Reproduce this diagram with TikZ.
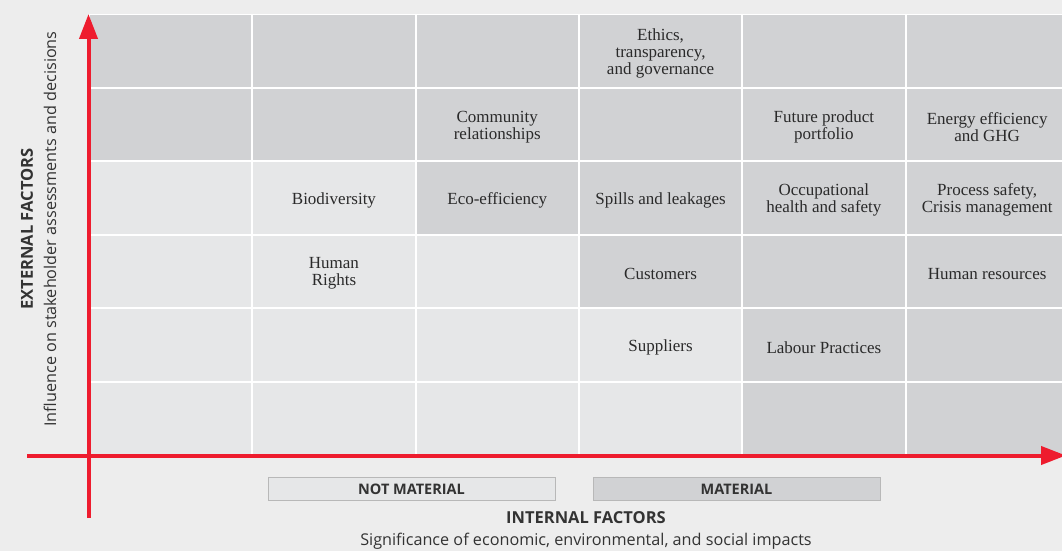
\documentclass[tikz,border=0pt]{standalone}
\usepackage{fontspec}
\setmainfont{Liberation Serif}
\newfontfamily\axisfont{Open Sans}
\usetikzlibrary{arrows.meta}

\definecolor{pagebg}{HTML}{EDEDED}
\definecolor{celldark}{HTML}{D1D2D4}
\definecolor{celllight}{HTML}{E6E7E8}
\definecolor{axisred}{HTML}{EE1C2E}
\definecolor{inktext}{HTML}{333333}
\definecolor{celltextcol}{HTML}{2A2A2A}
\definecolor{boxline}{HTML}{B8B8B8}

\tikzset{
  cell/.style={rectangle, inner sep=0pt, minimum width=161.3pt, minimum height=71.5pt},
  dark/.style={cell, fill=celldark},
  light/.style={cell, fill=celllight},
  topic/.style={align=center, inner sep=0pt, yshift=-2.5pt, text=celltextcol,
    font=\fontsize{17}{17}\selectfont},
  axisline/.style={draw=axisred, line width=4pt, -{Triangle[length=25pt, width=18pt]}},
  legendbox/.style={rectangle, draw=boxline, line width=0.8pt, minimum width=287pt,
    minimum height=23pt, inner sep=0pt, text=inktext, font=\axisfont\bfseries\fontsize{14.5}{16}\selectfont},
  axistitle/.style={text=inktext, font=\axisfont\bfseries\fontsize{16.5}{19}\selectfont},
  axissub/.style={text=inktext, font=\axisfont\fontsize{16.2}{19}\selectfont},
}

\begin{document}
\begin{tikzpicture}[x=1pt, y=-1pt]
  \useasboundingbox (0,0) rectangle (1062,551);
  \clip (0,0) rectangle (1062,551);
  \fill[pagebg] (0,0) rectangle (1062,551);

  % white gutters between the cells
  \fill[white] (89,14) rectangle (1070,455);

  % 6 x 6 matrix: column centres every 163.3, row centres every 73.5
  \def\cx#1{89+163.3*(#1-0.5)}
  \def\cy#1{14+73.5*(#1-0.5)}

  % cell shading, row by row (top to bottom)
  \node[dark] (r1c1) at ({\cx1},{\cy1}) {};
  \node[dark] (r1c2) at ({\cx2},{\cy1}) {};
  \node[dark] (r1c3) at ({\cx3},{\cy1}) {};
  \node[dark] (r1c4) at ({\cx4},{\cy1}) {};
  \node[dark] (r1c5) at ({\cx5},{\cy1}) {};
  \node[dark] (r1c6) at ({\cx6},{\cy1}) {};

  \node[dark] (r2c1) at ({\cx1},{\cy2}) {};
  \node[dark] (r2c2) at ({\cx2},{\cy2}) {};
  \node[dark] (r2c3) at ({\cx3},{\cy2}) {};
  \node[dark] (r2c4) at ({\cx4},{\cy2}) {};
  \node[dark] (r2c5) at ({\cx5},{\cy2}) {};
  \node[dark] (r2c6) at ({\cx6},{\cy2}) {};

  \node[light] (r3c1) at ({\cx1},{\cy3}) {};
  \node[light] (r3c2) at ({\cx2},{\cy3}) {};
  \node[dark]  (r3c3) at ({\cx3},{\cy3}) {};
  \node[dark]  (r3c4) at ({\cx4},{\cy3}) {};
  \node[dark]  (r3c5) at ({\cx5},{\cy3}) {};
  \node[dark]  (r3c6) at ({\cx6},{\cy3}) {};

  \node[light] (r4c1) at ({\cx1},{\cy4}) {};
  \node[light] (r4c2) at ({\cx2},{\cy4}) {};
  \node[light] (r4c3) at ({\cx3},{\cy4}) {};
  \node[dark]  (r4c4) at ({\cx4},{\cy4}) {};
  \node[dark]  (r4c5) at ({\cx5},{\cy4}) {};
  \node[dark]  (r4c6) at ({\cx6},{\cy4}) {};

  \node[light] (r5c1) at ({\cx1},{\cy5}) {};
  \node[light] (r5c2) at ({\cx2},{\cy5}) {};
  \node[light] (r5c3) at ({\cx3},{\cy5}) {};
  \node[light] (r5c4) at ({\cx4},{\cy5}) {};
  \node[dark]  (r5c5) at ({\cx5},{\cy5}) {};
  \node[dark]  (r5c6) at ({\cx6},{\cy5}) {};

  \node[light] (r6c1) at ({\cx1},{\cy6}) {};
  \node[light] (r6c2) at ({\cx2},{\cy6}) {};
  \node[light] (r6c3) at ({\cx3},{\cy6}) {};
  \node[light] (r6c4) at ({\cx4},{\cy6}) {};
  \node[dark]  (r6c5) at ({\cx5},{\cy6}) {};
  \node[dark]  (r6c6) at ({\cx6},{\cy6}) {};

  % topics placed in their cells
  \node[topic] (t-ethics)    at (r1c4) {Ethics,\\transparency,\\and governance};
  \node[topic] (t-community) at (r2c3) {Community\\relationships};
  \node[topic] (t-future)    at (r2c5) {Future product\\portfolio};
  \node[topic] (t-energy)    at (r2c6) {Energy efficiency\\and GHG};
  \node[topic] (t-biodiv)    at (r3c2) {Biodiversity};
  \node[topic] (t-eco)       at (r3c3) {Eco-efficiency};
  \node[topic] (t-spills)    at (r3c4) {Spills and leakages};
  \node[topic] (t-ohs)       at (r3c5) {Occupational\\health and safety};
  \node[topic] (t-process)   at (r3c6) {Process safety,\\Crisis management};
  \node[topic] (t-rights)    at (r4c2) {Human\\Rights};
  \node[topic] (t-customers) at (r4c4) {Customers};
  \node[topic] (t-hr)        at (r4c6) {Human resources};
  \node[topic] (t-suppliers) at (r5c4) {Suppliers};
  \node[topic] (t-labour)    at (r5c5) {Labour Practices};

  % axes
  \coordinate (ybase) at (88.5,518);
  \coordinate (ytip)  at (88.5,14);
  \coordinate (xbase) at (27,455.5);
  \coordinate (xtip)  at (1066,455.5);
  \draw[axisline] (xbase) -- (xtip);
  \draw[axisline] (ybase) -- (ytip);

  % legend
  \node[legendbox, fill=celllight] (notmat) at (411.5,489) {NOT MATERIAL};
  \node[legendbox, fill=celldark]  (mat)    at (736.5,489) {MATERIAL};

  % axis titles
  \node[axistitle] (xtitle) at (586,518) {INTERNAL FACTORS};
  \node[axissub]   (xsub)   at (586,541) {Significance of economic, environmental, and social impacts};
  \node[axistitle, rotate=90] (ytitle) at (27,229) {EXTERNAL FACTORS};
  \node[axissub, rotate=90]   (ysub)   at (50,229) {Influence on stakeholder assessments and decisions};
\end{tikzpicture}
\end{document}
